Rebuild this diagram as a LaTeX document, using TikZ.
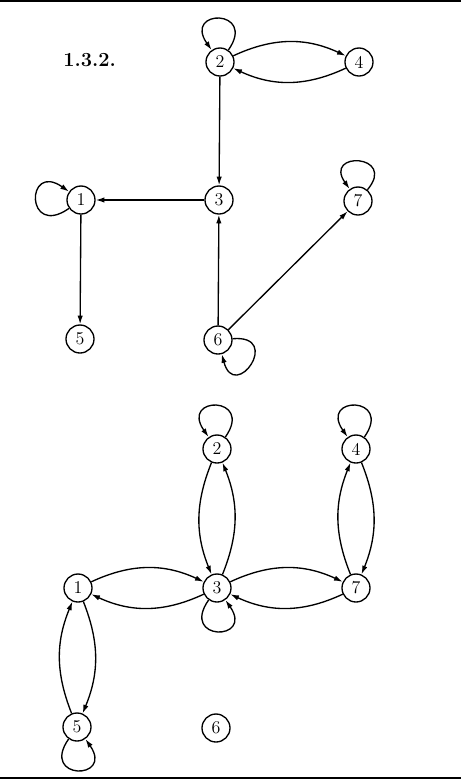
\documentclass[tikz,border=0pt]{standalone}
\usetikzlibrary{arrows.meta}
\begin{document}
\begin{tikzpicture}[x=0.75pt,y=-0.75pt,
  vtx/.style={draw,circle,line width=1pt,minimum size=21pt,inner sep=0pt,font=\fontsize{13.5}{15}\selectfont},
  arr/.style={line width=1pt,-{Latex[length=6.5pt,width=4pt]}},
  rule/.style={line width=1.5pt}]
\useasboundingbox (0,0) rectangle (461,779);
\coordinate (tl) at (0,1.2); \coordinate (tr) at (461,1.2);
\coordinate (bl) at (0,777.8); \coordinate (br) at (461,777.8);
\draw[rule] (tl) -- (tr);
\draw[rule] (bl) -- (br);
\node[anchor=base west,inner sep=0pt,font=\fontsize{15}{17}\selectfont\bfseries] (lab) at (63,66) {1.3.2.};
% top graph
\node[vtx] (a2) at (220,62) {2};
\node[vtx] (a4) at (359,62) {4};
\node[vtx] (a1) at (81,200) {1};
\node[vtx] (a3) at (219,200) {3};
\node[vtx] (a7) at (358,201) {7};
\node[vtx] (a5) at (80,339) {5};
\node[vtx] (a6) at (218,340) {6};
\draw[arr] (a2) to[out=55,in=125,distance=38pt] (a2);
\draw[arr] (a2) to[bend left=25] (a4);
\draw[arr] (a4) to[bend left=25] (a2);
\draw[arr] (a2) -- (a3);
\draw[arr] (a3) -- (a1);
\draw[arr] (a1) to[out=215,in=145,distance=40pt] (a1);
\draw[arr] (a1) -- (a5);
\draw[arr] (a6) -- (a3);
\draw[arr] (a6) -- (a7);
\draw[arr] (a6) to[out=5,in=-75,distance=38pt] (a6);
\draw[arr] (a7) to[out=50,in=125,distance=35pt] (a7);
% bottom graph
\node[vtx] (b2) at (217,449) {2};
\node[vtx] (b4) at (356,449) {4};
\node[vtx] (b1) at (78,588) {1};
\node[vtx] (b3) at (217,588) {3};
\node[vtx] (b7) at (356,588) {7};
\node[vtx] (b5) at (77,727) {5};
\node[vtx] (b6) at (216,728) {6};
\draw[arr] (b2) to[out=55,in=125,distance=38pt] (b2);
\draw[arr] (b4) to[out=55,in=125,distance=38pt] (b4);
\draw[arr] (b2) to[bend right=22] (b3);
\draw[arr] (b3) to[bend right=22] (b2);
\draw[arr] (b4) to[bend left=22] (b7);
\draw[arr] (b7) to[bend left=22] (b4);
\draw[arr] (b1) to[bend left=25] (b3);
\draw[arr] (b3) to[bend left=25] (b1);
\draw[arr] (b3) to[bend left=25] (b7);
\draw[arr] (b7) to[bend left=25] (b3);
\draw[arr] (b3) to[out=235,in=305,distance=38pt] (b3);
\draw[arr] (b1) to[bend left=22] (b5);
\draw[arr] (b5) to[bend left=22] (b1);
\draw[arr] (b5) to[out=235,in=305,distance=38pt] (b5);
\end{tikzpicture}
\end{document}
